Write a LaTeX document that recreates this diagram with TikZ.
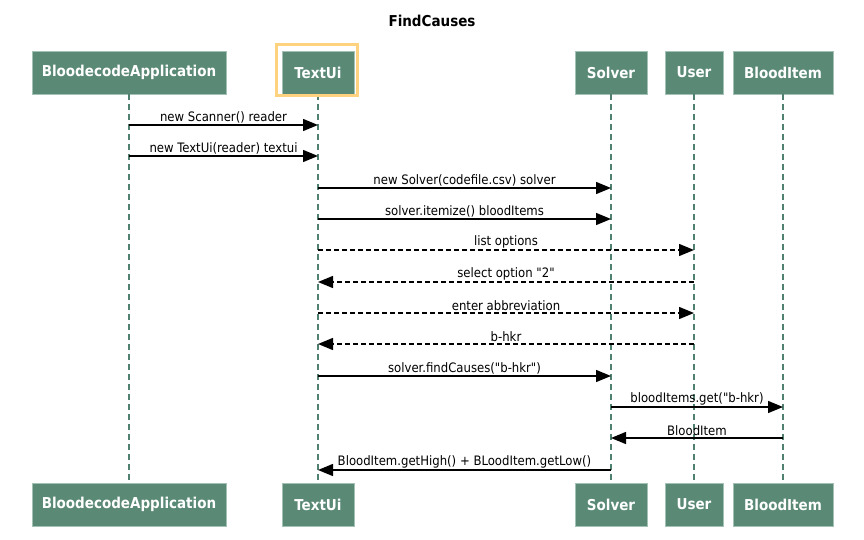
\documentclass[tikz,border=0pt]{standalone}
\usepackage{fontspec}
\setmainfont{DejaVu Sans Condensed}[Ligatures=TeXOff]
\usepackage{xcolor}
\usetikzlibrary{arrows.meta,positioning}

\definecolor{boxgreen}{HTML}{5A8A76}
\definecolor{boxedge}{HTML}{A3C2B5}
\definecolor{lifegreen}{HTML}{4F8070}
\definecolor{hilite}{HTML}{FFD27F}

\begin{document}
\begin{tikzpicture}[
  x=1pt,y=-1pt,
  font=\fontsize{13}{15}\selectfont,
  actor/.style={draw=boxedge,fill=boxgreen,text=white,minimum height=43,inner sep=0pt,font=\fontsize{15}{17}\selectfont\bfseries},
  life/.style={draw=lifegreen,line width=2.8pt,dash pattern=on 6pt off 4pt},
  msg/.style={line width=1.4pt,-{Triangle[length=15pt,width=12pt]}},
  reply/.style={msg,dash pattern=on 5pt off 3pt},
  lbl/.style={above,inner sep=1.5pt,midway}
]
\useasboundingbox (0,0) rectangle (864,540);

\node[font=\fontsize{15}{17}\selectfont\bfseries] (title) at (432,21) {FindCauses};

% participants on top and at the bottom, joined by their lifelines
\foreach \n/\x/\w/\t in {app/129/194/BloodecodeApplication,ui/318/72/TextUi,solver/611/72/Solver,user/694/58/User,item/783/100/BloodItem}{
  \node[actor,minimum width=\w] (\n) at (\x,72.5) {\t};
  \node[actor,minimum width=\w] (\n-b) at (\x,504.5) {\t};
  \draw[life] (\n.south) -- (\n-b.north);
}

% selected participant
\node[draw=hilite,line width=2.5pt,minimum width=81,minimum height=51,inner sep=0pt] (uiframe) at (317,70) {};

% messages, top to bottom
\foreach \a/\b/\y/\s/\t in {
  app/ui/125/msg/{new Scanner() reader},
  app/ui/156/msg/{new TextUi(reader) textui},
  ui/solver/188/msg/{new Solver(codefile.csv) solver},
  ui/solver/219/msg/{solver.itemize() bloodItems},
  ui/user/250/reply/{list options},
  user/ui/282/reply/{select option "2"},
  ui/user/313/reply/{enter abbreviation},
  user/ui/344/reply/{b-hkr},
  ui/solver/376/msg/{solver.findCauses("b-hkr")},
  solver/item/407/msg/{bloodItems.get("b-hkr)},
  item/solver/438/msg/{BloodItem},
  solver/ui/470/msg/{BloodItem.getHigh() + BLoodItem.getLow()}}{
  \draw[\s] (\a |- 0,\y) -- node[lbl] {\t} (\b |- 0,\y);
}

\end{tikzpicture}
\end{document}
